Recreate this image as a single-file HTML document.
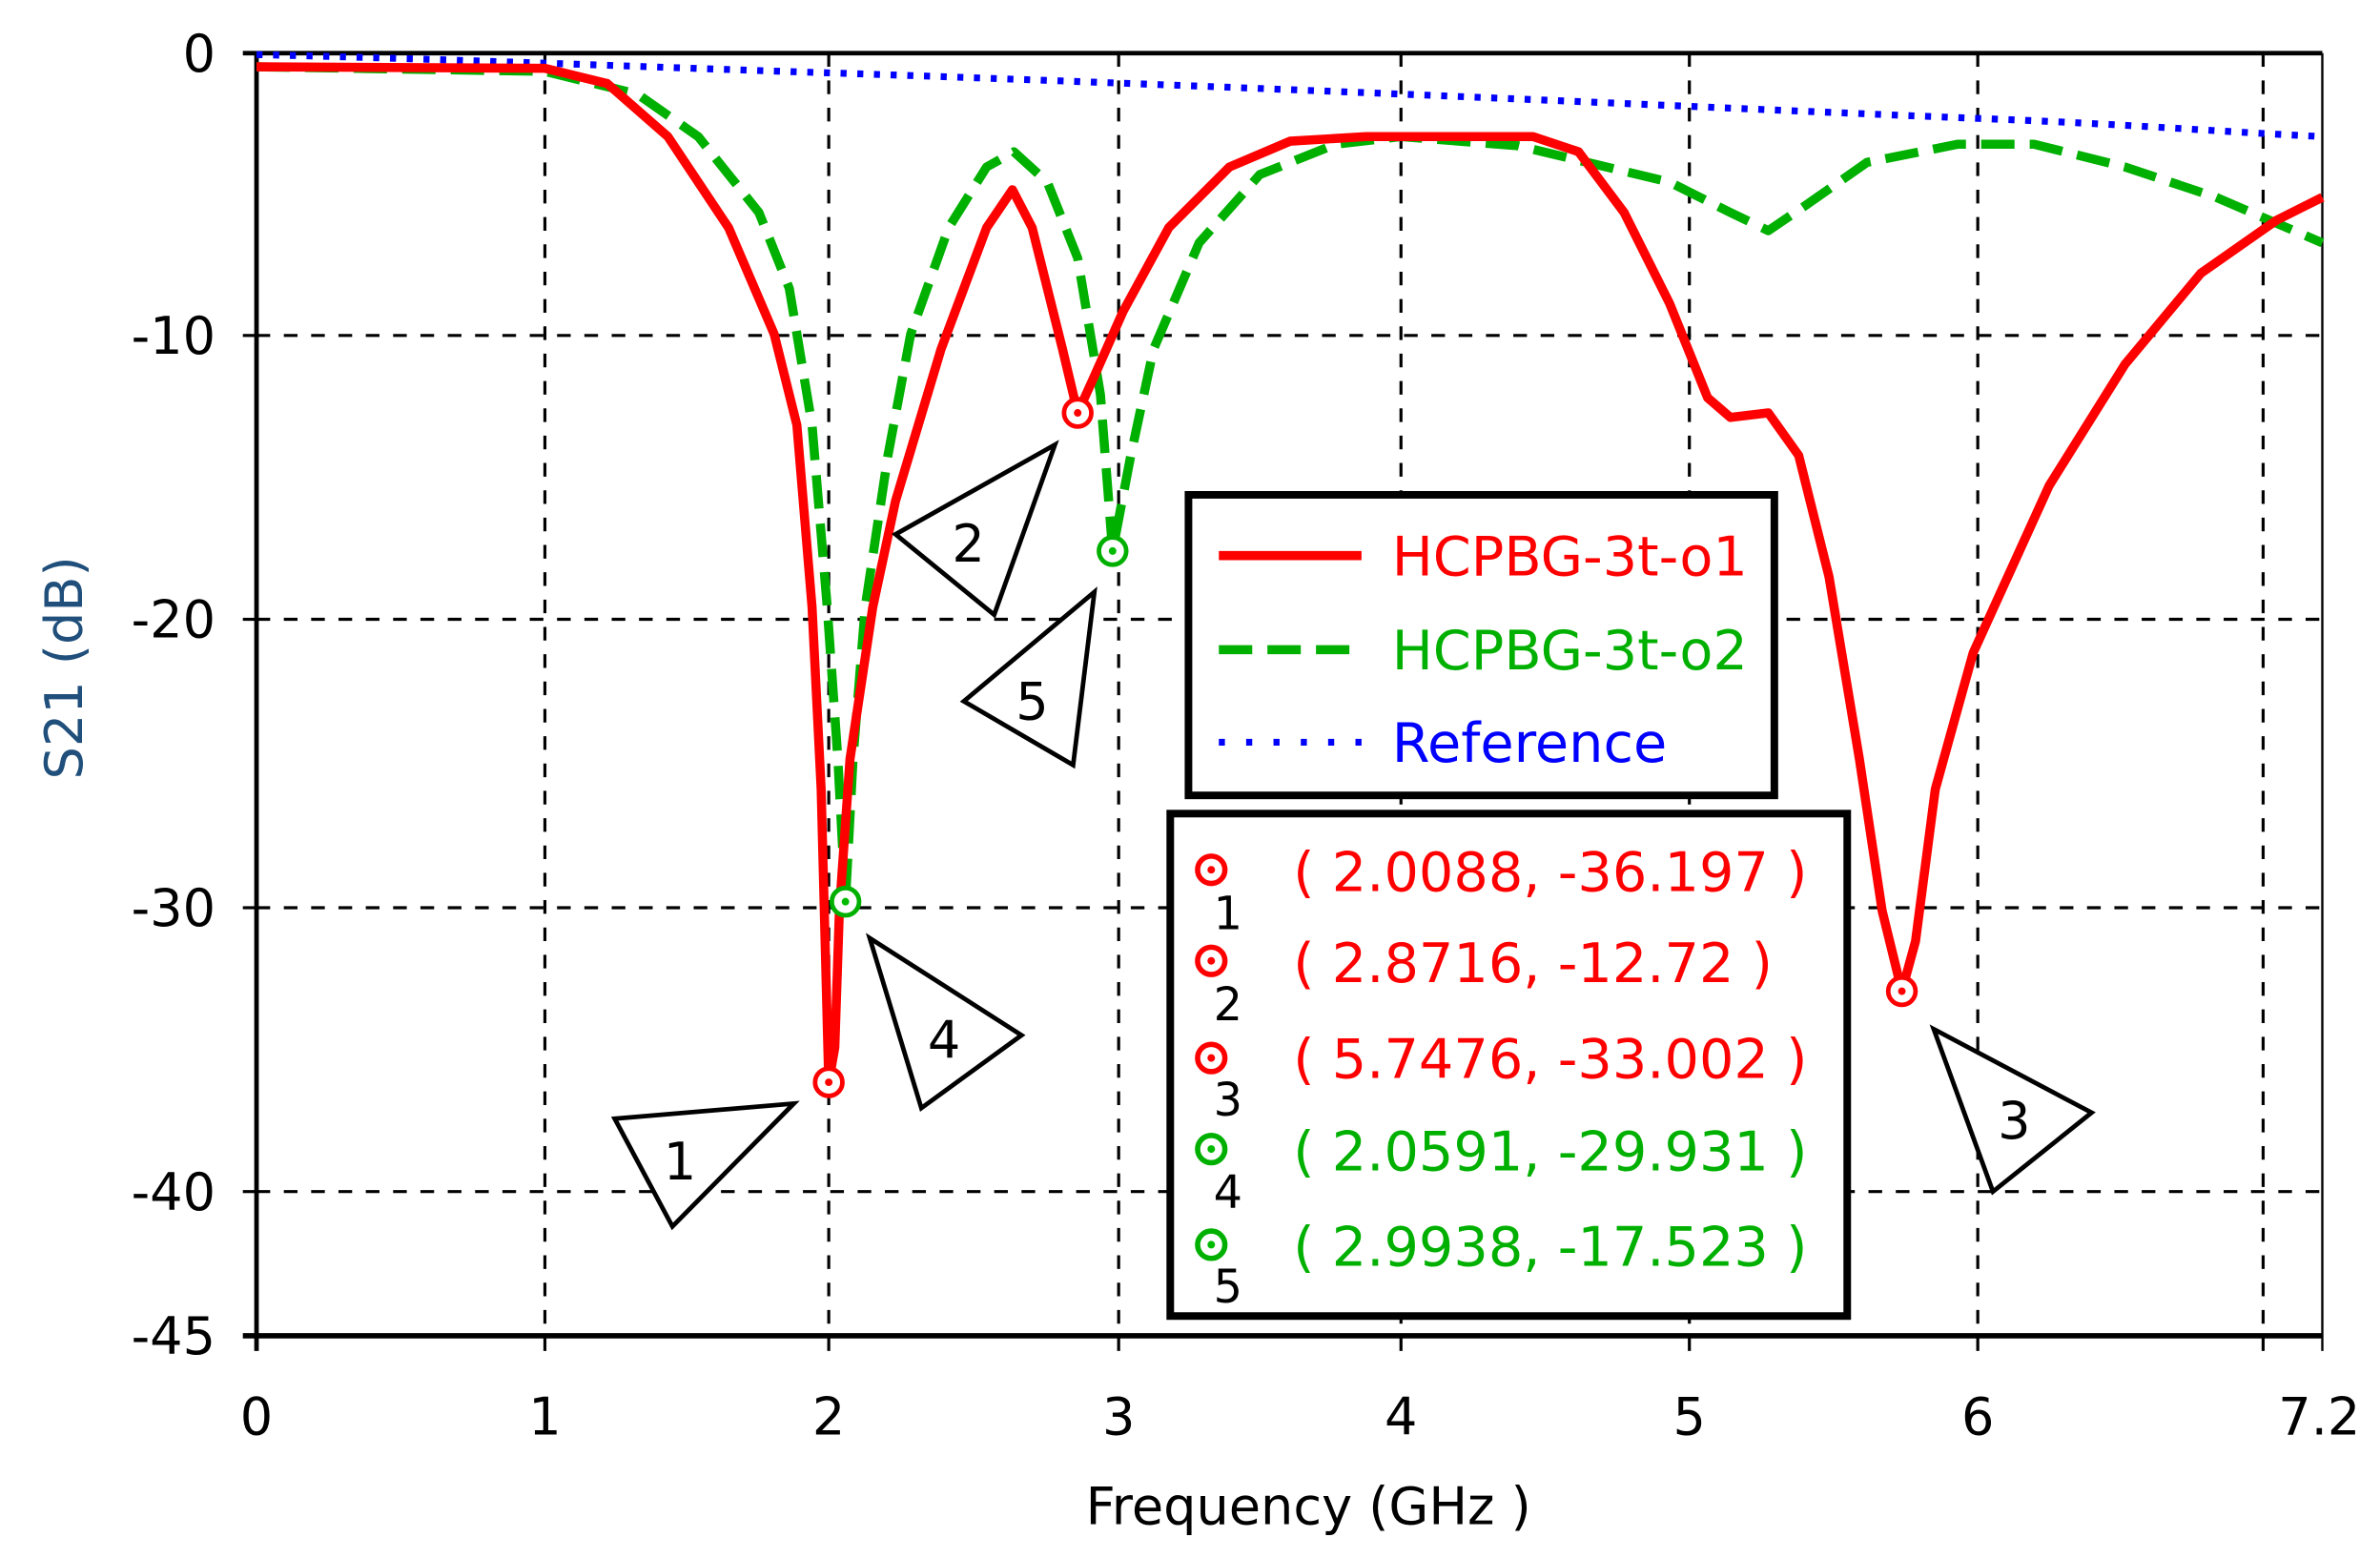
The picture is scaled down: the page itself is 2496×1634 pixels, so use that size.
<!DOCTYPE html>
<html><head><meta charset="utf-8"><style>
html,body{margin:0;padding:0;background:#fff;}
svg{display:block;}
text{font-family:"DejaVu Sans","Liberation Sans",sans-serif;}
</style></head><body>
<svg width="2496" height="1634" viewBox="0 0 1568 1026.4" preserveAspectRatio="none" xmlns="http://www.w3.org/2000/svg">
<rect width="1568" height="1027" fill="#fff"/>
<!-- grid -->
<g stroke="#000" stroke-width="2" stroke-dasharray="9,9" fill="none">
<line x1="359" y1="35" x2="359" y2="880"/>
<line x1="546" y1="35" x2="546" y2="880"/>
<line x1="737" y1="35" x2="737" y2="880"/>
<line x1="923" y1="35" x2="923" y2="880"/>
<line x1="1113" y1="35" x2="1113" y2="880"/>
<line x1="1303" y1="35" x2="1303" y2="880"/>
<line x1="1491" y1="35" x2="1491" y2="880"/>
<line x1="169" y1="221" x2="1530" y2="221"/>
<line x1="169" y1="408" x2="1530" y2="408"/>
<line x1="169" y1="598" x2="1530" y2="598"/>
<line x1="169" y1="785" x2="1530" y2="785"/>
</g>
<!-- frame -->
<g stroke="#000" fill="none">
<line x1="160" y1="35" x2="1530" y2="35" stroke-width="3"/>
<line x1="160" y1="880" x2="1530" y2="880" stroke-width="3.5"/>
<line x1="169" y1="35" x2="169" y2="890" stroke-width="3"/>
<line x1="1530" y1="35" x2="1530" y2="890" stroke-width="1.5"/>
<g stroke-width="2">
<line x1="359" y1="880" x2="359" y2="890"/><line x1="546" y1="880" x2="546" y2="890"/>
<line x1="737" y1="880" x2="737" y2="890"/><line x1="923" y1="880" x2="923" y2="890"/>
<line x1="1113" y1="880" x2="1113" y2="890"/><line x1="1303" y1="880" x2="1303" y2="890"/>
<line x1="1491" y1="880" x2="1491" y2="890"/>
<line x1="160" y1="221" x2="169" y2="221"/><line x1="160" y1="408" x2="169" y2="408"/>
<line x1="160" y1="598" x2="169" y2="598"/><line x1="160" y1="785" x2="169" y2="785"/>
</g></g>
<!-- tick labels -->
<g font-size="34" fill="#000" text-anchor="end">
<text x="142" y="47">0</text><text x="142" y="233">-10</text><text x="142" y="420">-20</text>
<text x="142" y="610">-30</text><text x="142" y="797">-40</text><text x="142" y="892">-45</text>
</g>
<g font-size="34" fill="#000" text-anchor="middle">
<text x="169" y="945">0</text><text x="359" y="945">1</text><text x="546" y="945">2</text>
<text x="737" y="945">3</text><text x="923" y="945">4</text><text x="1113" y="945">5</text>
<text x="1303" y="945">6</text><text x="1528" y="945">7.2</text>
<text x="862" y="1004">Frequency  (GHz )</text>
</g>
<text transform="translate(54,440) rotate(-90)" font-size="34" fill="#1f4f7a" text-anchor="middle">S21 (dB)</text>
<!-- reference blue -->
<path d="M169,36 C300,39 450,45 546,48 S800,57 923,62 S1200,74 1303,78 S1450,86 1530,90" fill="none" stroke="#0000ff" stroke-width="4.5" stroke-dasharray="4,7"/>
<!-- green dashed -->
<polyline fill="none" stroke="#00b000" stroke-width="6" stroke-dasharray="22,10" stroke-linejoin="round" points="169,44 359,47 420,62 460,90 500,140 520,190 535,280 545,400 552,500 557,594 562,500 570,400 585,300 600,220 625,150 650,110 668,100 690,120 710,170 725,260 733,363 745,300 760,230 790,160 830,115 880,95 923,90 1000,96 1050,108 1100,120 1140,140 1165,152 1190,135 1230,107 1290,95 1340,95 1400,110 1460,130 1530,160"/>
<!-- red -->
<polyline fill="none" stroke="#ff0000" stroke-width="6" stroke-linejoin="round" points="169,44 359,45 400,55 440,90 480,150 510,220 525,280 535,400 541,520 546,713 550,690 553,600 560,500 575,400 590,330 620,230 650,150 667,125 680,150 700,230 710,272 720,250 740,205 770,150 810,110 850,93 900,90 1010,90 1040,100 1070,140 1100,200 1125,262 1140,275 1165,272 1185,300 1205,380 1225,500 1240,600 1253,653 1262,620 1275,520 1300,430 1350,320 1400,240 1450,180 1500,145 1530,130"/>
<!-- markers -->
<g fill="#fff" stroke-width="3">
<g stroke="#ff0000"><circle cx="546" cy="713" r="9"/><circle cx="710" cy="272" r="9"/><circle cx="1253" cy="653" r="9"/></g>
<g stroke="#00b000"><circle cx="557" cy="594" r="9"/><circle cx="733" cy="363" r="9"/></g>
</g>
<g><circle cx="546" cy="713" r="2.5" fill="#f00"/><circle cx="710" cy="272" r="2.5" fill="#f00"/><circle cx="1253" cy="653" r="2.5" fill="#f00"/><circle cx="557" cy="594" r="2.5" fill="#0b0"/><circle cx="733" cy="363" r="2.5" fill="#0b0"/></g>
<!-- callouts -->
<g fill="#fff" stroke="#000" stroke-width="3" stroke-linejoin="miter">
<polygon points="405,737 523,727 443,808"/>
<polygon points="590,352 695,293 655,405"/>
<polygon points="635,462 721,390 707,504"/>
<polygon points="573,618 673,682 607,730"/>
<polygon points="1274,678 1378,733 1313,785"/>
</g>
<g font-size="34" fill="#000" text-anchor="middle">
<text x="448" y="777">1</text><text x="638" y="370">2</text><text x="680" y="474">5</text>
<text x="622" y="697">4</text><text x="1327" y="750">3</text>
</g>
<!-- legend 1 -->
<rect x="783" y="326" width="386" height="198" fill="#fff" stroke="#000" stroke-width="5"/>
<line x1="803" y1="366" x2="897" y2="366" stroke="#f00" stroke-width="6"/>
<line x1="803" y1="428" x2="897" y2="428" stroke="#00b000" stroke-width="6" stroke-dasharray="22,10"/>
<line x1="803" y1="489" x2="897" y2="489" stroke="#00f" stroke-width="4.5" stroke-dasharray="4,14"/>
<g font-size="36">
<text x="917" y="379" fill="#f00">HCPBG-3t-o1</text>
<text x="917" y="441" fill="#00b000">HCPBG-3t-o2</text>
<text x="917" y="502" fill="#0000ff">Reference</text>
</g>
<!-- legend 2 -->
<rect x="771" y="536" width="446" height="331" fill="#fff" stroke="#000" stroke-width="5"/>
<g fill="none" stroke-width="3.5">
<circle cx="798" cy="573" r="9" stroke="#f00"/><circle cx="798" cy="633" r="9" stroke="#f00"/><circle cx="798" cy="697" r="9" stroke="#f00"/>
<circle cx="798" cy="757" r="9" stroke="#00b000"/><circle cx="798" cy="820" r="9" stroke="#00b000"/>
</g>
<g><circle cx="798" cy="573" r="2.5" fill="#f00"/><circle cx="798" cy="633" r="2.5" fill="#f00"/><circle cx="798" cy="697" r="2.5" fill="#f00"/><circle cx="798" cy="757" r="2.5" fill="#0b0"/><circle cx="798" cy="820" r="2.5" fill="#0b0"/></g>
<g font-size="30" fill="#000" text-anchor="middle">
<text x="809" y="612">1</text><text x="809" y="672">2</text><text x="809" y="735">3</text><text x="809" y="796">4</text><text x="809" y="858">5</text>
</g>
<g font-size="36">
<text x="852" y="587" fill="#f00" xml:space="preserve">( 2.0088, -36.197 )</text>
<text x="852" y="647" fill="#f00" xml:space="preserve">( 2.8716, -12.72 )</text>
<text x="852" y="710" fill="#f00" xml:space="preserve">( 5.7476, -33.002 )</text>
<text x="852" y="771" fill="#00b000" xml:space="preserve">( 2.0591, -29.931 )</text>
<text x="852" y="834" fill="#00b000" xml:space="preserve">( 2.9938, -17.523 )</text>
</g>
</svg>
</body></html>
